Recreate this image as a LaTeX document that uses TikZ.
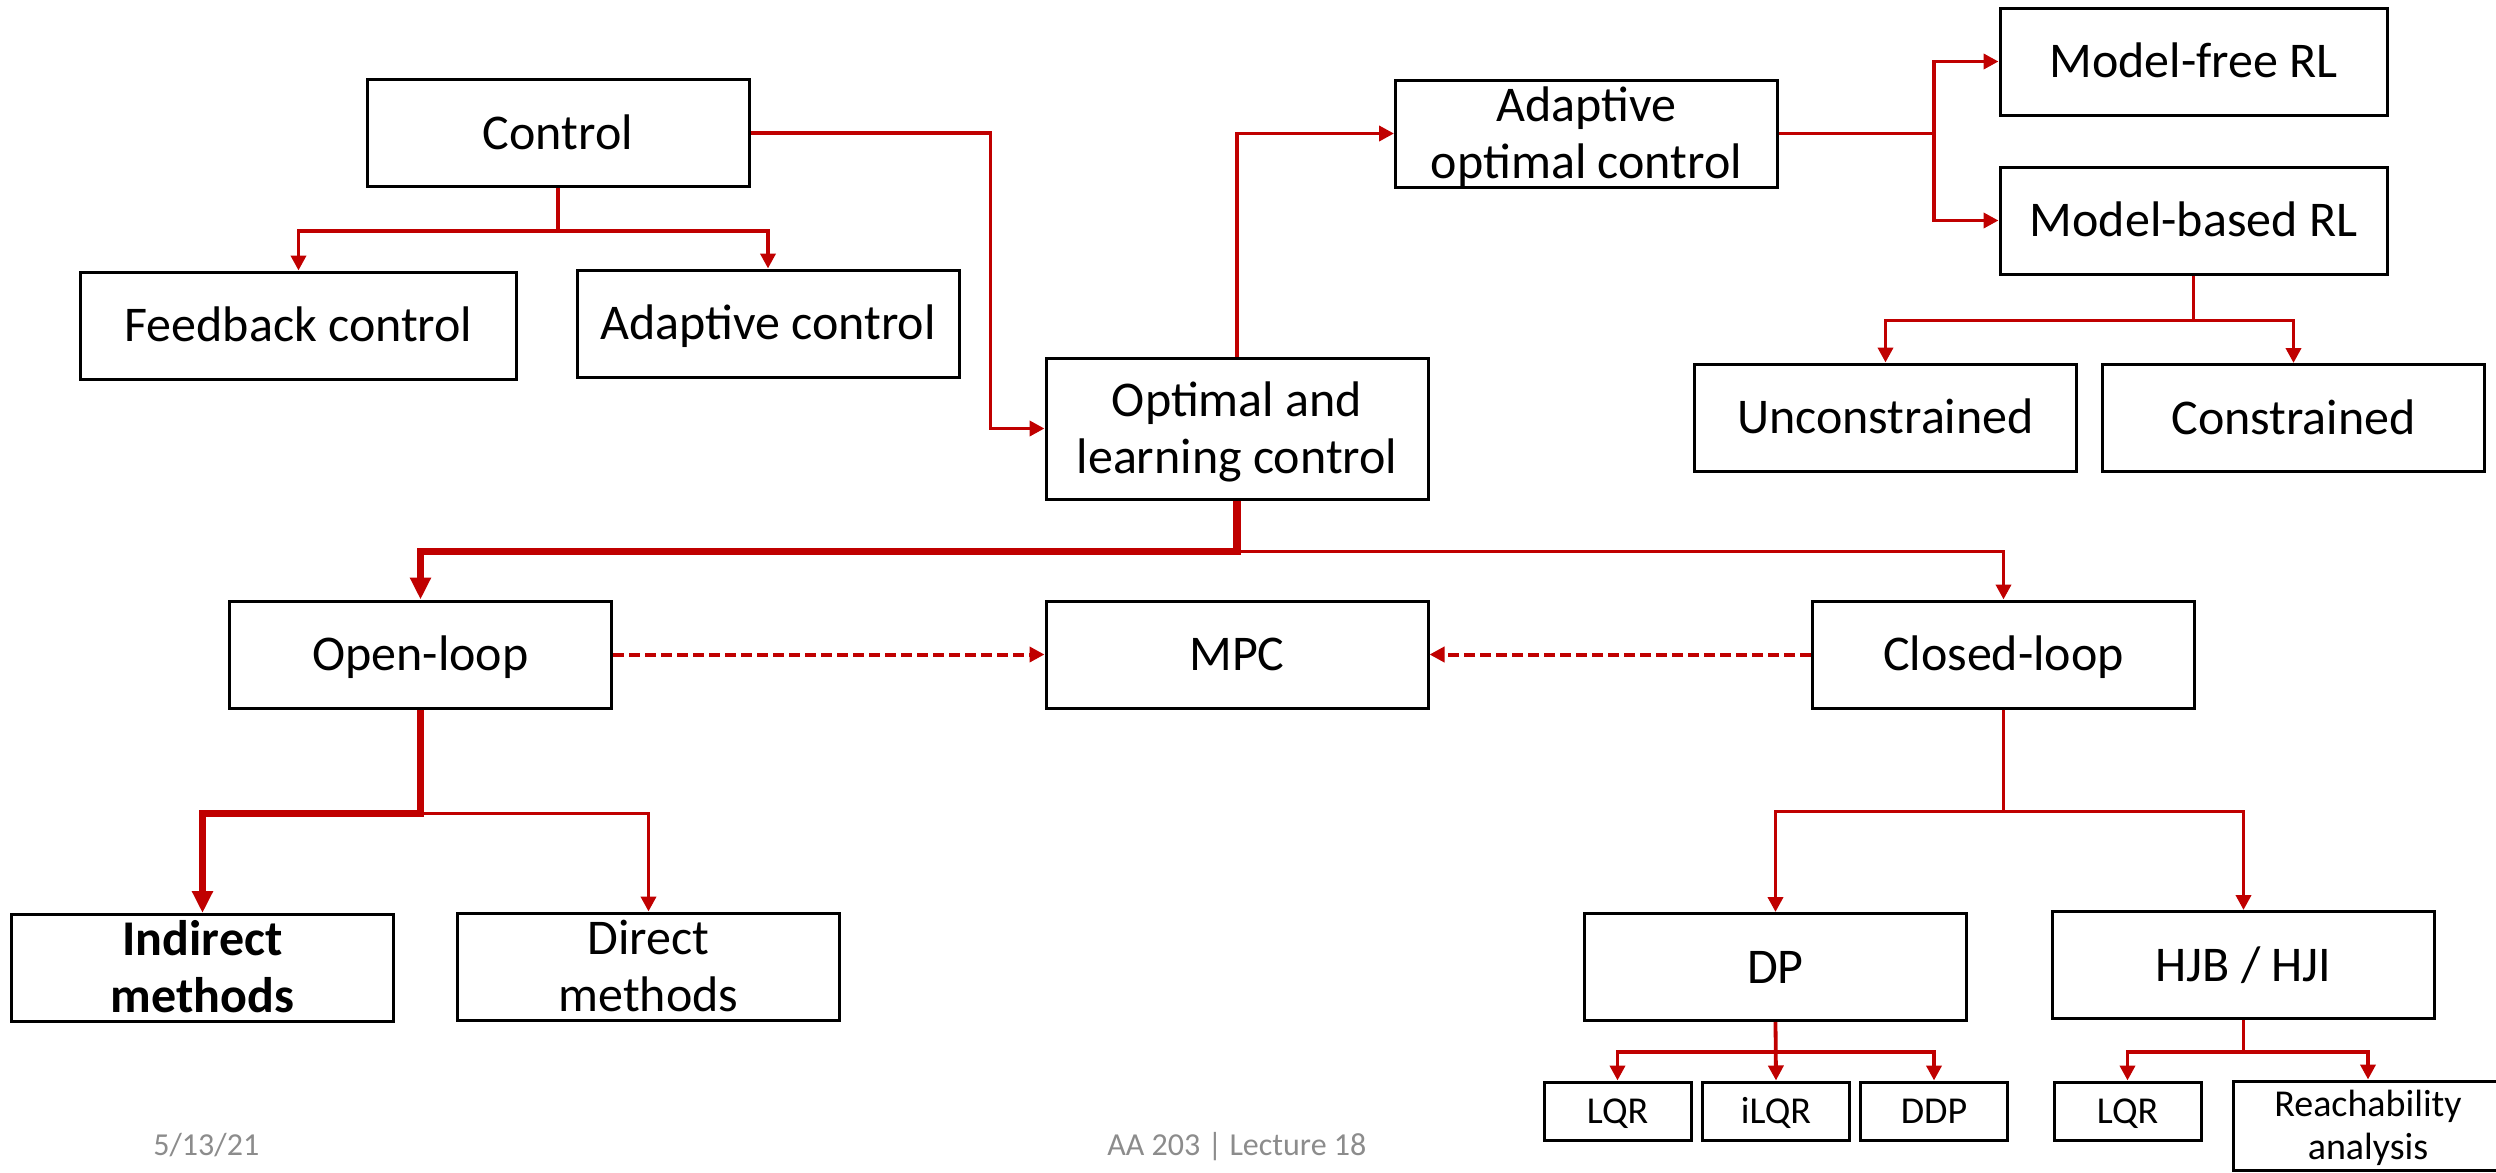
\documentclass[tikz,border=0pt]{standalone}
\usepackage{fontspec}
\setmainfont{Carlito}
\usetikzlibrary{arrows.meta}
\definecolor{cred}{HTML}{C00000}
\definecolor{footgray}{HTML}{8C8C8C}
\begin{document}
\begin{tikzpicture}[x=0.5pt,y=-0.5pt,
  box/.style={draw=black, line width=1.5pt, inner sep=0pt, align=center,
    minimum width=191pt, minimum height=53.5pt,
    font=\fontsize{25pt}{28.5pt}\selectfont, text height=16pt, text depth=0pt},
  twoline/.style={text height=44.5pt},
  wide/.style={minimum width=218pt},
  tall/.style={minimum height=70.5pt},
  smallbox/.style={draw=black, line width=1.5pt, inner sep=0pt, align=center,
    minimum width=73.5pt, minimum height=29pt,
    font=\fontsize{19pt}{21.5pt}\selectfont, text height=12.2pt, text depth=0pt},
  conn/.style={draw=cred, line width=1.9pt, -{Triangle[length=7.5pt,width=7.5pt]}},
  heavy/.style={draw=cred, line width=3.8pt, -{Triangle[length=11pt,width=10pt]}},
  dashconn/.style={draw=cred, line width=2pt, dash pattern=on 5.5pt off 2.5pt,
    -{Triangle[length=7.5pt,width=7.5pt]}},
  foot/.style={text=footgray, font=\fontsize{16pt}{19pt}\selectfont, anchor=base west, inner sep=0pt}]
\fill[white] (0,0) rectangle (2496,1173);
\useasboundingbox (0,0) rectangle (2496,1173);

\node[box] (ctrl) at (558,133) {Control};
\node[box,wide] (fb) at (298.5,325.5) {Feedback control};
\node[box] (adc) at (768,323.5) {Adaptive control};
\node[box,tall,twoline] (olc) at (1237,428.5) {Optimal and\\learning control};
\node[box,twoline] (aoc) at (1586.5,133.5) {Adaptive\\optimal control};
\node[box,minimum width=193.5pt] (mf) at (2193.5,61.5) {Model-free RL};
\node[box,minimum width=193.5pt] (mb) at (2193.5,220.5) {Model-based RL};
\node[box] (unc) at (1885.5,417.5) {Unconstrained};
\node[box] (con) at (2293.5,418) {Constrained};
\node[box] (ol) at (420.5,654.5) {Open-loop};
\node[box] (mpc) at (1237,654.5) {MPC};
\node[box] (cl) at (2003.5,654.5) {Closed-loop};
\node[box,twoline,font=\fontsize{25pt}{28.5pt}\selectfont\bfseries] (ind) at (202.5,968) {Indirect\\methods};
\node[box,twoline] (dir) at (648.5,966.5) {Direct\\methods};
\node[box] (dp) at (1775.5,967) {DP};
\node[box] (hjb) at (2243.5,965) {HJB / HJI};
\node[smallbox] (lqra) at (1617.5,1111) {LQR};
\node[smallbox] (ilqr) at (1776,1111) {iLQR};
\node[smallbox] (ddp) at (1934,1111) {DDP};
\node[smallbox] (lqrb) at (2127.5,1111) {LQR};
\node[smallbox,minimum width=135pt,minimum height=44.5pt,text height=33.7pt] (reach) at (2368,1125.5) {Reachability\\analysis};

\node[foot] (date) at (153,1155) {5/13/21};
\node[foot] (lect) at (1107,1155) {AA 203 | Lecture 18};

\draw[conn] (ctrl.south) -- ++(0,43) -| (fb.north);
\draw[conn] (ctrl.south) -- ++(0,43) -| (adc.north);
\draw[conn] (ctrl.east) -- ++(240,0) |- (olc.west);
\draw[conn] (olc.north) |- (aoc.west);
\draw[conn] (aoc.east) -- ++(155,0) |- (mf.west);
\draw[conn] (aoc.east) -- ++(155,0) |- (mb.west);
\draw[conn] (mb.south) -- ++(0,45) -| (unc.north);
\draw[conn] (mb.south) -- ++(0,45) -| (con.north);
\draw[conn] (olc.south) -- ++(0,51) -| (cl.north);
\draw[heavy] (olc.south) -- ++(0,51) -| (ol.north);
\draw[conn] (ol.south) -- ++(0,104) -| (dir.north);
\draw[heavy] (ol.south) -- ++(0,104) -| (ind.north);
\draw[dashconn] (ol.east) -- (mpc.west);
\draw[dashconn] (cl.west) -- (mpc.east);
\draw[conn] (cl.south) -- ++(0,102) -| (dp.north);
\draw[conn] (cl.south) -- ++(0,102) -| (hjb.north);
\draw[conn] (dp.south) -- ++(0,30) -| (lqra.north);
\draw[conn] (dp.south) -- (ilqr.north);
\draw[conn] (dp.south) -- ++(0,30) -| (ddp.north);
\draw[conn] (hjb.south) -- ++(0,32) -| (lqrb.north);
\draw[conn] (hjb.south) -- ++(0,32) -| (reach.north);
\end{tikzpicture}
\end{document}
